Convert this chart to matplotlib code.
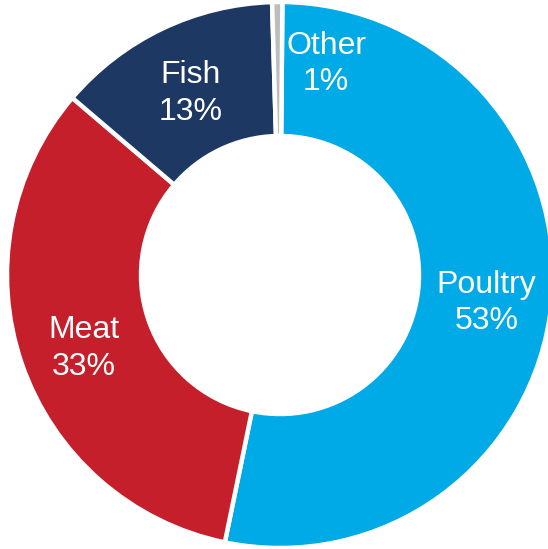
import matplotlib.pyplot as plt

# protein share by category
categories = ['Poultry', 'Meat', 'Fish', 'Other']
shares = [53.1, 33.0, 13.3, 0.6]
colors = ['#00AAE6', '#C41F2A', '#1E3864', '#BDBDBD']

plt.rcParams['font.family'] = ['Liberation Sans', 'DejaVu Sans']

fig = plt.figure(figsize=(5.48, 5.49), dpi=100)
ax = fig.add_axes([0, 0, 1, 1])

total = sum(shares)
labels = [
    f'{c}\n{round(v / total * 100):.0f}%'
    for c, v in zip(categories, shares)
]

wedges, texts = ax.pie(
    shares,
    labels=labels,
    colors=colors,
    startangle=89.5,
    counterclock=False,
    center=(280, 274),
    radius=273,
    labeldistance=0.76,
    wedgeprops=dict(width=134, edgecolor='white', linewidth=3.2),
    textprops=dict(color='white', fontsize=23, ha='center', va='center',
                   linespacing=1.3),
    frame=True,
)

# nudge labels down a touch
for t in texts:
    x, y = t.get_position()
    t.set_position((x, y - 6))

# the tiny "Other" slice keeps its label on the poultry slice
texts[3].set_position((326, 485))
texts[3].set_ha('center')

ax.set_xlim(0, 548)
ax.set_ylim(0, 549)
ax.set_aspect('equal')
ax.axis('off')

fig.savefig('out.png', dpi=100)
